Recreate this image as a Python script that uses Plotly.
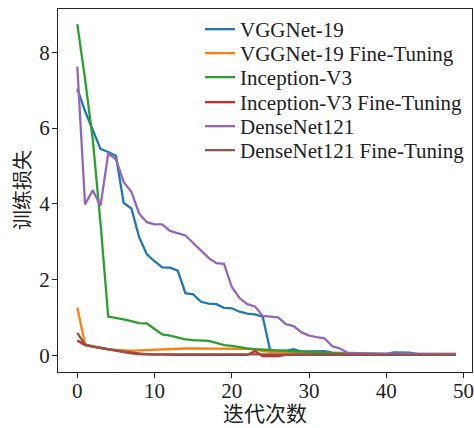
import plotly.graph_objects as go

epochs = list(range(50))

vgg19 = [7.04, 6.45, 5.95, 5.45, 5.37, 5.27, 4.03, 3.88, 3.13, 2.67,
         2.49, 2.33, 2.32, 2.24, 1.65, 1.62, 1.42, 1.37, 1.36, 1.26,
         1.25, 1.16, 1.11, 1.09, 1.03, 0.11, 0.12, 0.13, 0.17, 0.11,
         0.11, 0.12, 0.12, 0.08, 0.07, 0.06, 0.06, 0.05, 0.05, 0.05,
         0.05, 0.09, 0.09, 0.08, 0.05, 0.05, 0.04, 0.04, 0.04, 0.04]

vgg19_ft = [1.27, 0.30, 0.25, 0.20, 0.17, 0.15, 0.14, 0.13, 0.14, 0.15,
            0.16, 0.17, 0.18, 0.18, 0.19, 0.19, 0.19, 0.19, 0.18, 0.18,
            0.18, 0.18, 0.18, 0.17, 0.12, 0.10, 0.10, 0.09, 0.08, 0.08,
            0.07, 0.07, 0.07, 0.06, 0.06, 0.06, 0.06, 0.06, 0.05, 0.05,
            0.05, 0.05, 0.05, 0.05, 0.05, 0.05, 0.05, 0.05, 0.05, 0.05]

inception = [8.74, 7.30, 5.70, 3.50, 1.03, 1.00, 0.96, 0.91, 0.86, 0.85,
             0.70, 0.56, 0.53, 0.48, 0.43, 0.41, 0.40, 0.39, 0.34, 0.28,
             0.26, 0.22, 0.19, 0.17, 0.16, 0.14, 0.13, 0.13, 0.12, 0.11,
             0.09, 0.08, 0.07, 0.06, 0.05, 0.05, 0.05, 0.04, 0.04, 0.04,
             0.04, 0.04, 0.04, 0.04, 0.03, 0.03, 0.03, 0.03, 0.03, 0.03]

inception_ft = [0.40, 0.28, 0.24, 0.20, 0.16, 0.13, 0.09, 0.06, 0.04, 0.03,
                0.03, 0.03, 0.02, 0.02, 0.02, 0.02, 0.02, 0.02, 0.02, 0.02,
                0.02, 0.02, 0.02, 0.12, -0.01, -0.01, -0.01, 0.02, 0.02, 0.02,
                0.02, 0.02, 0.02, 0.02, 0.02, 0.02, 0.02, 0.02, 0.02, 0.02,
                0.02, 0.02, 0.02, 0.02, 0.02, 0.02, 0.02, 0.02, 0.02, 0.02]

densenet = [7.62, 3.99, 4.36, 3.95, 5.33, 5.18, 4.58, 4.32, 3.75, 3.52,
            3.46, 3.46, 3.29, 3.23, 3.17, 2.97, 2.78, 2.58, 2.44, 2.42,
            1.81, 1.52, 1.36, 1.30, 1.05, 1.03, 1.01, 0.83, 0.78, 0.62,
            0.53, 0.49, 0.46, 0.25, 0.19, 0.08, 0.06, 0.06, 0.06, 0.05,
            0.05, 0.05, 0.05, 0.05, 0.05, 0.05, 0.05, 0.05, 0.05, 0.05]

densenet_ft = [0.60, 0.29, 0.24, 0.20, 0.17, 0.14, 0.11, 0.08, 0.06, 0.04,
               0.04, 0.03, 0.03, 0.03, 0.03, 0.03, 0.03, 0.03, 0.03, 0.03,
               0.03, 0.03, 0.03, 0.03, 0.03, 0.03, 0.03, 0.03, 0.03, 0.03,
               0.03, 0.03, 0.03, 0.03, 0.03, 0.03, 0.03, 0.03, 0.03, 0.03,
               0.02, 0.02, 0.02, 0.02, 0.02, 0.02, 0.02, 0.02, 0.02, 0.02]

series_names = ["VGGNet-19", "VGGNet-19 Fine-Tuning", "Inception-V3",
                "Inception-V3 Fine-Tuning", "DenseNet121", "DenseNet121 Fine-Tuning"]
series_values = [vgg19, vgg19_ft, inception, inception_ft, densenet, densenet_ft]
colors = ["#1f77b4", "#ff7f0e", "#2ca02c", "#d62728", "#9467bd", "#8c564b"]

x_ticks = [0, 10, 20, 30, 40, 50]
y_ticks = [0, 2, 4, 6, 8]
x_title = "迭代次数"
y_title = "训练损失"

FONT = "Liberation Serif, Times New Roman, Noto Sans CJK SC, serif"
W, H = 474, 428
L, R, T, B = 58, 2, 9, 56
PW, PH = W - L - R, H - T - B

fig = go.Figure()
legend_ids = ["legend", "legend2", "legend3", "legend4", "legend5", "legend6"]
for name, vals, c, lid in zip(series_names, series_values, colors, legend_ids):
    fig.add_trace(go.Scatter(
        x=epochs, y=vals, mode="lines", name=name, legend=lid,
        line=dict(color=c, width=2.3),
    ))

axis_common = dict(
    showgrid=False, zeroline=False, showline=True, linecolor="#222",
    linewidth=1.2, mirror=True, ticks="outside", ticklen=5, tickwidth=1.2,
    tickcolor="#222", tickfont=dict(family=FONT, size=21, color="#222"),
)

legend_centers = [28, 52, 76, 101, 125, 149]
legends = {}
for lid, cy in zip(legend_ids, legend_centers):
    legends[lid] = dict(
        xref="container", yref="container",
        x=200 / W, y=1 - (cy - 19) / H, xanchor="left", yanchor="top",
        font=dict(family=FONT, size=21, color="#222"),
        bgcolor="rgba(255,255,255,0)", borderwidth=0, itemwidth=30,
    )

fig.update_layout(
    width=W, height=H,
    margin=dict(l=L, r=R, t=T, b=B, autoexpand=False),
    paper_bgcolor="white", plot_bgcolor="white",
    font=dict(family=FONT, color="#222"),
    xaxis=dict(range=[-2.5, 51.1], tickvals=x_ticks, ticklabelstandoff=-5,
               **axis_common),
    yaxis=dict(range=[-0.43, 9.14], tickvals=y_ticks, ticklabelstandoff=-2,
               **axis_common),
    showlegend=True,
    annotations=[
        dict(text=x_title, xref="paper", yref="paper",
             x=(265 - L) / PW, y=(H - B - 414) / PH, xanchor="center", yanchor="middle",
             showarrow=False, font=dict(family=FONT, size=21, color="#222")),
        dict(text=y_title, xref="paper", yref="paper", textangle=-90,
             x=(23 - L) / PW, y=(H - B - 190) / PH, xanchor="center", yanchor="middle",
             showarrow=False, font=dict(family=FONT, size=20, color="#222")),
    ],
    **legends,
)

fig.write_html("out.html", config={"displayModeBar": False},
               post_script="document.body.style.margin='0';")
